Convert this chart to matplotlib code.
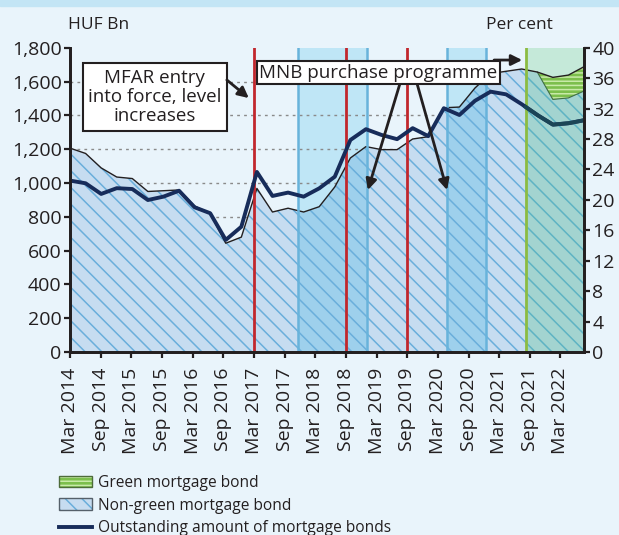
import numpy as np
import matplotlib
matplotlib.use('Agg')
import matplotlib.pyplot as plt
from matplotlib.patches import Patch, Rectangle
from matplotlib.lines import Line2D
from matplotlib.legend_handler import HandlerTuple
from matplotlib.ticker import FuncFormatter

# quarterly observations, Mar 2014 .. Jun 2022
total_share = [26.8, 26.1, 24.2, 23.0, 22.8, 21.1, 21.2, 21.3, 19.2, 18.2,
               14.3, 15.1, 21.5, 18.4, 18.9, 18.4, 19.1, 21.7, 25.5, 27.0,
               26.6, 26.6, 28.0, 28.3, 32.1, 32.2, 34.7, 36.6, 36.9, 37.2,
               36.8, 36.1, 36.4, 37.5]
green_share = [0.0] * 31 + [2.9, 3.0, 3.2]
outstanding = [1014, 998, 935, 969, 964, 899, 919, 954, 856, 821,
               663, 741, 1065, 923, 943, 919, 968, 1037, 1254, 1318,
               1284, 1259, 1324, 1277, 1442, 1402, 1486, 1540, 1524, 1466,
               1402, 1345, 1353, 1371]

tick_labels = ['Mar 2014', 'Sep 2014', 'Mar 2015', 'Sep 2015', 'Mar 2016',
               'Sep 2016', 'Mar 2017', 'Sep 2017', 'Mar 2018', 'Sep 2018',
               'Mar 2019', 'Sep 2019', 'Mar 2020', 'Sep 2020', 'Mar 2021',
               'Sep 2021', 'Mar 2022']
tick_months = list(range(0, 97, 6))
huf_ticks = list(range(0, 1801, 200))
pct_ticks = list(range(0, 41, 4))

axis_end = 100.6                      # months after Mar 2014
mfar_steps = [36, 54, 66]             # red lines
mnb_periods = [(44.6, 58.1), (73.7, 81.5)]
green_period = (89.2, axis_end)

BG = '#e9f4fb'
AREA = '#c6dcf0'
HATCH = '#6aaedb'
BAND_ABOVE = '#bfe6f6'
BAND_UNDER = '#9ed0ec'
GREEN_ABOVE = '#c5e9d9'
GREEN_UNDER = '#a3d4d0'
GREEN_HATCH = '#5eb3c3'
GREEN_BOND = '#7cbf4c'
GREEN_STRIPE = '#c8eaa8'
NAVY = '#172c5a'
NAVY_GREEN = '#1b4556'
RED = '#c1272d'
BAND_EDGE = '#68b3db'
GREEN_EDGE = '#8cbc42'
INK = '#231f20'

plt.rcParams['font.family'] = ['Open Sans', 'DejaVu Sans']
plt.rcParams['font.size'] = 13
plt.rcParams['hatch.linewidth'] = 1.1

total = np.array(total_share)
green = np.array(green_share)
nongreen = total - green
x = np.linspace(0, axis_end, len(total))
xs = np.linspace(0, axis_end, 4000)
ng_d = np.interp(xs, x, nongreen)

fig = plt.figure(figsize=(6.19, 5.35), dpi=100, facecolor=BG)
fig.patches.append(Rectangle((0, 1 - 6 / 535), 1, 6 / 535, transform=fig.transFigure,
                             color='#c3e5f5', zorder=0))
ax = fig.add_axes([70 / 619, 1 - 352 / 535, 514 / 619, 304.3 / 535])
ax.set_facecolor(BG)
axl = ax.twinx()
ax.yaxis.tick_right()
axl.yaxis.tick_left()

# shaded periods (above the curve)
for a, b in mnb_periods:
    ax.axvspan(a, b, color=BAND_ABOVE, lw=0, zorder=0)
ax.axvspan(*green_period, color=GREEN_ABOVE, lw=0, zorder=0)

# non-green area
ax.fill_between(x, 0, nongreen, facecolor=AREA, edgecolor=HATCH, hatch='\\\\',
                lw=0, zorder=1)
for a, b in mnb_periods:
    m = (xs >= a) & (xs <= b)
    ax.fill_between(xs[m], 0, ng_d[m], facecolor=BAND_UNDER, edgecolor=HATCH,
                    hatch='\\\\', lw=0, zorder=1.2)
m = (xs >= green_period[0]) & (xs <= green_period[1])
ax.fill_between(xs[m], 0, ng_d[m], facecolor=GREEN_UNDER, edgecolor=GREEN_HATCH,
                hatch='\\\\', lw=0, zorder=1.2)

# green area
gm = green > 0
gm[np.argmax(gm) - 1] = True
ax.fill_between(x[gm], nongreen[gm], total[gm], facecolor=GREEN_BOND,
                edgecolor=GREEN_STRIPE, hatch='----', lw=0, zorder=1.5)
ax.plot(x[gm], nongreen[gm], color='#3f6e45', lw=0.8, zorder=1.6)
ax.plot(x, total, color=INK, lw=1.0, zorder=1.7)

# vertical markers
for v in mfar_steps:
    ax.axvline(v, color=RED, lw=2, zorder=2)
for a, b in mnb_periods:
    ax.plot([a, a], [0.3, 40], color=BAND_EDGE, lw=1.8, zorder=1.9)
    ax.plot([b, b], [0.3, 40], color=BAND_EDGE, lw=1.8, zorder=1.9)
ax.axvline(green_period[0], color=GREEN_EDGE, lw=2, zorder=2)

# outstanding amount (HUF bn)
axl.plot(x, outstanding, color=NAVY, lw=2.8, zorder=3)
axl.plot(xs[m], np.interp(xs[m], x, outstanding), color=NAVY_GREEN, lw=2.8, zorder=3.1)

ax.set_xlim(0, axis_end)
ax.set_ylim(0, 40)
axl.set_ylim(0, 1800)
ax.set_yticks(pct_ticks)
axl.set_yticks(huf_ticks)
axl.yaxis.set_major_formatter(FuncFormatter(lambda v, p: f'{int(v):,}'))
# dotted grid at the HUF levels, kept under the areas
ax.set_yticks([v * 40 / 1800 for v in huf_ticks[1:]], minor=True)
ax.tick_params(axis='y', which='minor', length=0)
ax.set_axisbelow(True)
ax.yaxis.grid(True, which='minor', color='#8a8a8a', lw=1, linestyle=(0, (2, 3)))
ax.set_xticks(tick_months)
ax.set_xticklabels(tick_labels, rotation=90)

for a_ in (ax, axl):
    a_.spines['top'].set_visible(False)
    for s in ('left', 'right', 'bottom'):
        a_.spines[s].set_color(INK)
        a_.spines[s].set_linewidth(2)
        a_.spines[s].set_zorder(6)
ax.tick_params(axis='both', which='major', direction='out', length=4, width=1.6,
               color=INK, labelcolor=INK, labelsize=14)
axl.tick_params(axis='y', direction='out', length=4, width=1.6, color=INK,
                labelcolor=INK, pad=2, labelsize=14)
ax.tick_params(axis='y', pad=2)
ax.tick_params(axis='x', pad=7)

fig.text(68 / 619, 1 - 25 / 535, 'HUF Bn', ha='left', va='center', color=INK, size=12.5)
fig.text(553 / 619, 1 - 25 / 535, 'Per cent', ha='right', va='center', color=INK, size=12.5)

# annotations
box = dict(boxstyle='square,pad=0.3', facecolor='white', edgecolor=INK, lw=1.5)
arrow = dict(arrowstyle='-|>', color=INK, lw=2, mutation_scale=16, shrinkA=0, shrinkB=0)
axl.text(16.6, 1508, 'MFAR entry\ninto force, level\nincreases', ha='center',
         va='center', bbox=box, zorder=6, linespacing=1.08, color=INK, size=13.5)
axl.annotate('', xy=(35.0, 1502), xytext=(30.7, 1609), arrowprops=arrow, zorder=6)
axl.annotate('', xy=(88.5, 1727), xytext=(83.0, 1727), arrowprops=arrow, zorder=6)
axl.annotate('', xy=(58.3, 958), xytext=(64.6, 1590), arrowprops=arrow, zorder=6)
axl.annotate('', xy=(73.8, 958), xytext=(67.9, 1590), arrowprops=arrow, zorder=6)
axl.text(60.4, 1653, 'MNB purchase programme', ha='center', va='center',
         bbox=dict(boxstyle='square,pad=0.12', facecolor='white', edgecolor=INK, lw=1.5),
         zorder=7, color=INK, size=13.5)

# legend
h_green = Patch(facecolor=GREEN_BOND, edgecolor=GREEN_STRIPE, hatch='----', lw=0)
h_green_o = Patch(facecolor='none', edgecolor='#4d6b3a', lw=1)
h_ng = Patch(facecolor=AREA, edgecolor=HATCH, hatch='\\\\', lw=0)
h_ng_o = Patch(facecolor='none', edgecolor='#55606a', lw=1)
h_line = Line2D([], [], color=NAVY, lw=2.8)
fig.legend([(h_green, h_green_o), (h_ng, h_ng_o), h_line],
           ['Green mortgage bond', 'Non-green mortgage bond',
            'Outstanding amount of mortgage bonds'],
           handler_map={tuple: HandlerTuple(ndivide=1, pad=0)},
           loc='upper left', bbox_to_anchor=(59 / 619, 1 - 475 / 535),
           frameon=False, handlelength=2.1, handleheight=0.75, labelspacing=0.42,
           handletextpad=0.4, borderpad=0, borderaxespad=0, labelcolor=INK,
           fontsize=11.2)

fig.savefig('out.png', dpi=100, facecolor=BG)
